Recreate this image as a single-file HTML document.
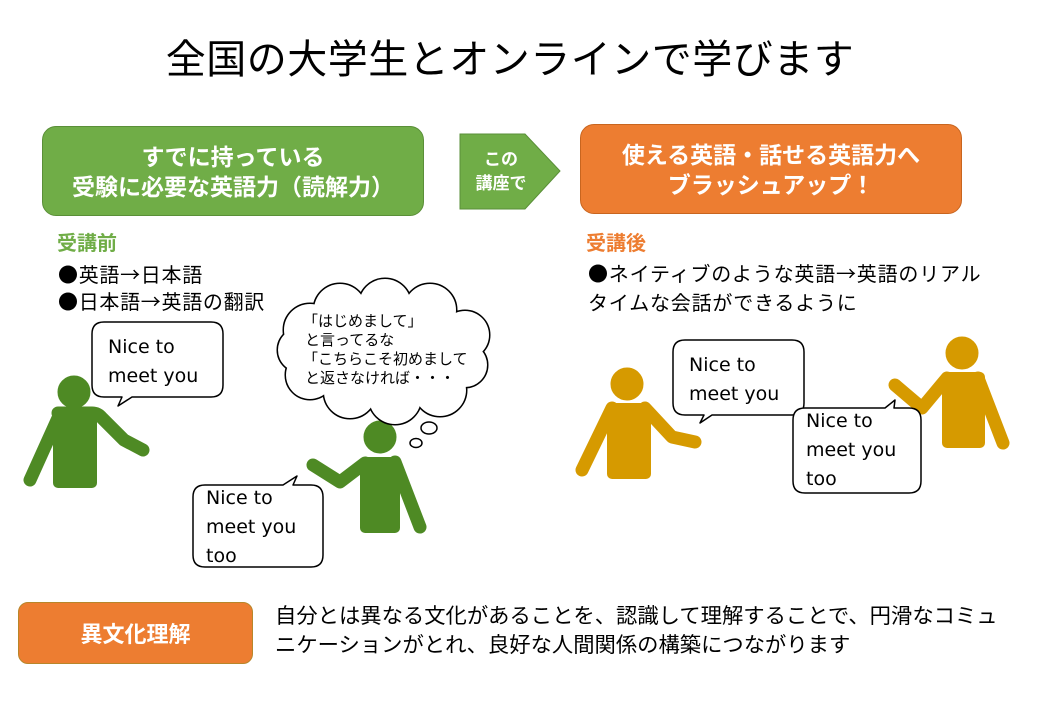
<!DOCTYPE html>
<html><head><meta charset="utf-8"><style>
body{margin:0;width:1040px;height:720px;background:#fff;position:relative;overflow:hidden;font-family:"Noto Sans CJK JP","Liberation Sans",sans-serif;color:#000}
.a{position:absolute;white-space:nowrap}
.box{position:absolute;border-radius:14px;color:#fff;font-weight:bold;text-align:center;display:flex;align-items:center;justify-content:center;line-height:1.3}
.en{font-family:"DejaVu Sans","Liberation Sans",sans-serif;font-size:19px;line-height:29px}
</style></head><body>
<div class="a" style="left:0;width:1020px;text-align:center;top:28px;font-size:40px;line-height:56px;letter-spacing:0.5px">全国の大学生とオンラインで学びます</div>

<div class="box" style="left:42px;top:126px;width:380px;height:88px;background:#70ad47;border:1px solid #5a8f38;font-size:23px">すでに持っている<br>受験に必要な英語力（読解力）</div>
<svg class="a" style="left:459px;top:133px" width="104" height="78"><polygon points="1,1 66,1 101,38 66,76 1,76" fill="#70ad47" stroke="#5a8f38"/><text x="42" y="32" font-size="17" font-weight="bold" fill="#fff" text-anchor="middle" font-family="Noto Sans CJK JP">この</text><text x="42" y="56" font-size="17" font-weight="bold" fill="#fff" text-anchor="middle" font-family="Noto Sans CJK JP">講座で</text></svg>
<div class="box" style="left:580px;top:124px;width:380px;height:88px;background:#ed7d31;border:1px solid #c8651f;font-size:23px">使える英語・話せる英語力へ<br>ブラッシュアップ！</div>

<div class="a" style="left:57px;top:227px;font-size:20px;font-weight:bold;color:#70ad47">受講前</div>
<div class="a" style="left:58px;top:260px;font-size:20px;line-height:27px;letter-spacing:0.7px">●英語→日本語<br>●日本語→英語の翻訳</div>
<div class="a" style="left:586px;top:227px;font-size:20px;font-weight:bold;color:#ed7d31">受講後</div>
<div class="a" style="left:588px;top:258px;font-size:20px;line-height:29px;letter-spacing:0.8px">●ネイティブのような英語→英語のリアル<br>タイムな会話ができるように</div>

<svg class="a" style="left:0;top:0" width="1040" height="600">
<g fill="#4e8a24" stroke="#4e8a24" stroke-linecap="round" stroke-linejoin="round">
<circle cx="74" cy="392" r="16"/>
<path d="M58,413 H92 Q98,413 102,418 L124,440 L143,450" fill="none" stroke-width="13"/>
<path d="M58,418 L30,480" fill="none" stroke-width="13"/>
<rect x="53" y="411" width="44" height="77" rx="5" stroke="none"/>
<circle cx="380" cy="437" r="16"/>
<rect x="360" y="457" width="40" height="76" rx="5" stroke="none"/>
<path d="M395,462 L420,527" fill="none" stroke-width="13"/>
<path d="M365,463 L340,482 L313,465" fill="none" stroke-width="13"/>
</g>
<g fill="#d69a00" stroke="#d69a00" stroke-linecap="round" stroke-linejoin="round">
<circle cx="627" cy="384" r="16"/>
<rect x="607" y="403" width="44" height="76" rx="5" stroke="none"/>
<path d="M612,408 L582,470" fill="none" stroke-width="13"/>
<path d="M645,408 L672,437 L695,442" fill="none" stroke-width="13"/>
<circle cx="962" cy="353" r="16"/>
<rect x="942" y="372" width="43" height="76" rx="5" stroke="none"/>
<path d="M978,378 L1003,443" fill="none" stroke-width="13"/>
<path d="M947,378 L922,408 L895,385" fill="none" stroke-width="13"/>
</g>
<g fill="#fff" stroke="#000" stroke-width="1.5" stroke-linejoin="round">
<path d="M104,322 H211 Q223,322 223,334 V385 Q223,397 211,397 H132 L118,406 L122,397 H104 Q92,397 92,385 V334 Q92,322 104,322 Z"/>
<path d="M205,485 H283 L297,476 L293,485 H311 Q323,485 323,497 V555 Q323,567 311,567 H205 Q193,567 193,555 V497 Q193,485 205,485 Z"/>
<path d="M685,340 H792 Q804,340 804,352 V403 Q804,415 792,415 H712 L700,423 L704,415 H685 Q673,415 673,403 V352 Q673,340 685,340 Z"/>
<path d="M805,408 H885 L895,400 L894,408 H909 Q921,408 921,420 V481 Q921,493 909,493 H805 Q793,493 793,481 V420 Q793,408 805,408 Z"/>
</g>
<g stroke="#000" stroke-width="3" fill="#000">
<circle cx="310" cy="330" r="26"/><circle cx="340" cy="310" r="26"/><circle cx="385" cy="305" r="26"/><circle cx="430" cy="310" r="26"/><circle cx="465" cy="335" r="24"/><circle cx="465" cy="365" r="22"/><circle cx="440" cy="390" r="26"/><circle cx="395" cy="398" r="26"/><circle cx="350" cy="392" r="26"/><circle cx="310" cy="375" r="24"/><circle cx="300" cy="350" r="22"/>
</g>
<g fill="#fff">
<circle cx="310" cy="330" r="26"/><circle cx="340" cy="310" r="26"/><circle cx="385" cy="305" r="26"/><circle cx="430" cy="310" r="26"/><circle cx="465" cy="335" r="24"/><circle cx="465" cy="365" r="22"/><circle cx="440" cy="390" r="26"/><circle cx="395" cy="398" r="26"/><circle cx="350" cy="392" r="26"/><circle cx="310" cy="375" r="24"/><circle cx="300" cy="350" r="22"/>
<ellipse cx="383" cy="352" rx="90" ry="50"/>
</g>
<g fill="#fff" stroke="#000" stroke-width="1.5"><ellipse cx="429" cy="428" rx="8" ry="6"/><ellipse cx="416" cy="443" rx="6" ry="4.5"/></g>
<text font-size="15" font-family="Noto Sans CJK JP" fill="#000"><tspan x="303" y="326">「はじめまして」</tspan><tspan x="305" y="345">と言ってるな</tspan><tspan x="303" y="364">「こちらこそ初めまして</tspan><tspan x="305" y="383">と返さなければ・・・</tspan></text>
</svg>
<div class="a en" style="left:108px;top:333px">Nice to<br>meet you</div>
<div class="a en" style="left:206px;top:484px">Nice to<br>meet you<br>too</div>
<div class="a en" style="left:689px;top:351px">Nice to<br>meet you</div>
<div class="a en" style="left:806px;top:407px">Nice to<br>meet you<br>too</div>

<div class="box" style="left:18px;top:602px;width:233px;height:60px;border-radius:10px;background:#ed7d31;border:1px solid #b8862a;font-size:22px">異文化理解</div>
<div class="a" style="left:275px;top:601px;font-size:21px;line-height:29px;transform:scaleX(1.015);transform-origin:0 0">自分とは異なる文化があることを、認識して理解することで、円滑なコミュ<br>ニケーションがとれ、良好な人間関係の構築につながります</div>
</body></html>
